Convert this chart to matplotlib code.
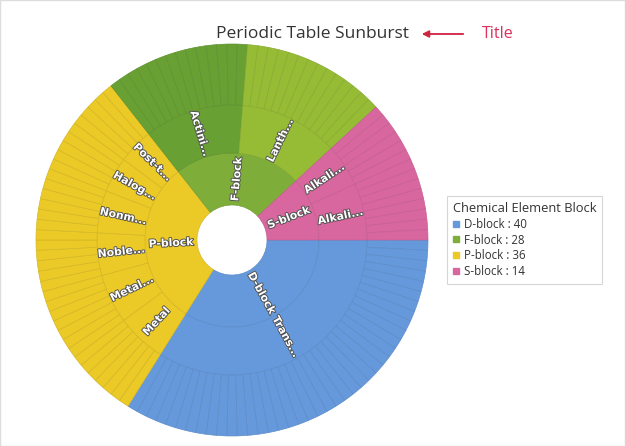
import numpy as np
import matplotlib
matplotlib.use('Agg')
import matplotlib.pyplot as plt
import matplotlib.patheffects as pe
from matplotlib.lines import Line2D

# inner ring: blocks (legend order)
blocks = ['D-block', 'F-block', 'P-block', 'S-block']
block_counts = [40, 28, 36, 14]
block_colors = ['#6599dc', '#7ead3a', '#ebc927', '#d9679f']

# middle ring: categories in each block (clockwise inside each block)
categories = [
    ['Transition metal'],
    ['Actinide', 'Lanthanide'],
    ['Metal', 'Metalloid', 'Noble gas', 'Nonmetal', 'Halogen', 'Post-transition metal'],
    ['Alkaline earth metal', 'Alkali metal'],
]
short_labels = [
    ['Trans...'],
    ['Actini...', 'Lanth...'],
    ['Metal', 'Metal...', 'Noble...', 'Nonm...', 'Halog...', 'Post-t...'],
    ['Alkali...', 'Alkali...'],
]
category_counts = [
    [40],
    [14, 14],
    [7, 7, 6, 6, 5, 5],
    [6, 8],
]
category_colors = [
    ['#6599dc'],
    ['#68a033', '#96bc35'],
    ['#ebc927'] * 6,
    ['#d9679f'] * 2,
]

# blocks go clockwise from 3 o'clock in this order
draw_order = [0, 2, 1, 3]


def darker(c, f=0.9):
    r, g, b = matplotlib.colors.to_rgb(c)
    return (r * f, g * f, b * f)


fig = plt.figure(figsize=(6.25, 4.46), dpi=100)
fig.patch.set_facecolor('white')

R = 196.0
cx, cy = 232, 446 - 240
ax = fig.add_axes([(cx - R) / 625, (cy - R) / 446, 2 * R / 625, 2 * R / 446])

r0, r1, r2, r3 = 35, 87, 135, 196

blk_vals = [block_counts[i] for i in draw_order]
blk_cols = [block_colors[i] for i in draw_order]
blk_labels = [blocks[i] for i in draw_order]
cat_vals = [v for i in draw_order for v in category_counts[i]]
cat_cols = [c for i in draw_order for c in category_colors[i]]
cat_labels = [s for i in draw_order for s in short_labels[i]]
elem_vals = [1] * sum(cat_vals)
elem_cols = [c for c, n in zip(cat_cols, cat_vals) for _ in range(n)]

rings = [
    (blk_vals, blk_cols, r1, r1 - r0),
    (cat_vals, cat_cols, r2, r2 - r1),
    (elem_vals, elem_cols, r3, r3 - r2),
]
for vals, cols, rad, w in rings:
    wedges, _ = ax.pie(vals, radius=rad, colors=cols, startangle=0, counterclock=False,
                       wedgeprops=dict(width=w, linewidth=0.45))
    for wd, c in zip(wedges, cols):
        wd.set_edgecolor(darker(c))

ax.set_xlim(-R, R)
ax.set_ylim(-R, R)
ax.set_aspect('equal')
ax.axis('off')


def put_labels(vals, labels, rin, rout):
    total = sum(vals)
    start = 0.0
    for v, lab in zip(vals, labels):
        mid = start + v / 2
        a = (-360.0 * mid / total) % 360
        rr = (rin + rout) / 2
        x = rr * np.cos(np.radians(a))
        y = rr * np.sin(np.radians(a))
        rot = a if a <= 90 else (a - 360 if a >= 270 else a - 180)
        ax.text(x, y, lab, rotation=rot, rotation_mode='anchor', ha='center', va='center',
                color='white', fontsize=7.8, fontweight='bold', family='DejaVu Sans',
                path_effects=[pe.withStroke(linewidth=1.3, foreground='#505050')])
        start += v


put_labels(blk_vals, blk_labels, r0, r1)
put_labels(cat_vals, cat_labels, r1, r2)

# title and annotation arrow
ty = 1 - 34 / 446
fig.text(0.5, ty, 'Periodic Table Sunburst', ha='center', va='center',
         fontsize=12.5, color='#333333', family='Open Sans')
fig.patches.append(matplotlib.patches.FancyArrowPatch(
    (466 / 625, ty), (419 / 625, ty), transform=fig.transFigure,
    arrowstyle='-|>', mutation_scale=10, color='#d0213f', linewidth=1.3))
fig.text(482 / 625, ty, 'Title', ha='left', va='center',
         fontsize=11.5, color='#dc2f5a', family='Open Sans')

# legend
handles = [Line2D([0], [0], marker='s', linestyle='', markersize=5,
                  markerfacecolor=c, markeredgecolor=c) for c in block_colors]
labels = ['%s : %d' % (b, n) for b, n in zip(blocks, block_counts)]
leg = fig.legend(handles, labels, title='Chemical Element Block', loc='upper left',
                 bbox_to_anchor=(447 / 625, 1 - 196 / 446), frameon=True, fancybox=False,
                 handlelength=0.6, handletextpad=0.4, borderaxespad=0,
                 labelspacing=0.25, borderpad=0.5, alignment='left',
                 prop={'family': 'Open Sans', 'size': 8.3})
leg.get_title().set_family('Open Sans')
leg.get_title().set_fontsize(9.3)
leg.get_title().set_color('#333333')
for t in leg.get_texts():
    t.set_color('#333333')
leg.get_frame().set_edgecolor('#cccccc')
leg.get_frame().set_linewidth(0.8)

# faint outer frame
fig.patches.append(matplotlib.patches.Rectangle((0, 0), 1, 1, transform=fig.transFigure,
                                                fill=False, edgecolor='#dddddd', linewidth=1))

fig.savefig('out.png', dpi=100)
